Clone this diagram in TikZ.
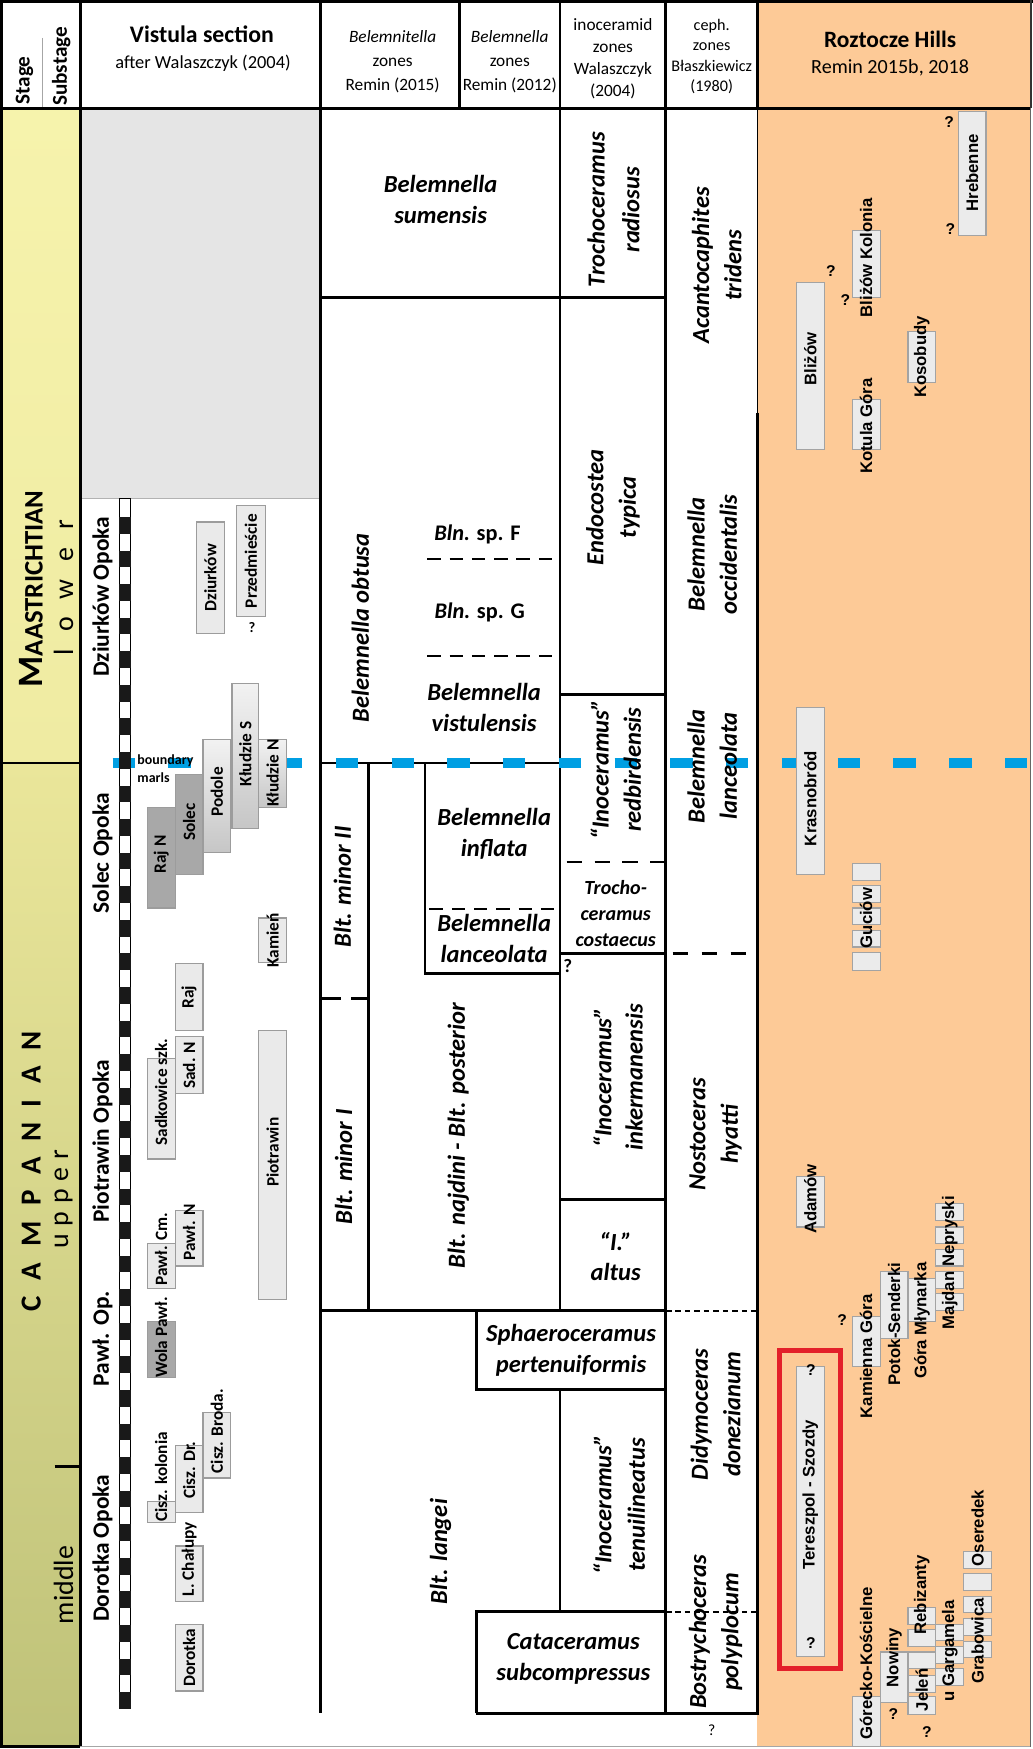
\documentclass[tikz,border=0pt]{standalone}
\usepackage{fontspec}
\setmainfont{Carlito}
\newfontfamily\arialf{Liberation Sans}
\definecolor{orng}{HTML}{FDCA97}
\definecolor{bblue}{HTML}{009FE3}
\definecolor{rboxf}{HTML}{EBEBEB}
\definecolor{rboxd}{HTML}{A3A3A3}
\definecolor{topgray}{HTML}{E5E5E5}
\definecolor{stA}{HTML}{F6F3AC}
\definecolor{stB}{HTML}{EFEBA2}
\definecolor{stC}{HTML}{EAE69A}
\definecolor{stD}{HTML}{BFC279}
\definecolor{redb}{HTML}{E3202A}
\definecolor{lgt}{HTML}{EAEAEA}
\definecolor{drk}{HTML}{A8A8A8}
\definecolor{medt}{HTML}{F2F2F2}
\definecolor{medb}{HTML}{C6C6C6}
\definecolor{edge}{HTML}{9C9C9C}
\begin{document}
\begin{tikzpicture}[x=1pt,y=-1pt,
  ln/.style={line width=2.6pt,black},
  tln/.style={line width=1.2pt,black},
  dln/.style={line width=2.2pt,black,dash pattern=on 12pt off 8pt},
  fdln/.style={line width=1.6pt,black,dash pattern=on 5pt off 3.5pt},
  zone/.style={font=\bfseries\itshape\fontsize{22}{28}\selectfont,align=center,inner sep=0pt},
  zonev/.style={zone,rotate=90},
  form/.style={font=\bfseries\fontsize{21}{24}\selectfont,rotate=90,inner sep=0pt},
  vlab/.style={font=\bfseries\fontsize{15.5}{18}\selectfont,rotate=90,inner sep=0pt},
  rlab/.style={font=\arialf\bfseries\fontsize{15}{18}\selectfont,rotate=90,inner sep=0pt},
  hdr/.style={font=\fontsize{15.5}{21.5}\selectfont,align=center,inner sep=0pt},
  qm/.style={font=\arialf\bfseries\fontsize{14}{14}\selectfont,inner sep=0pt},
  rbx/.style={fill=rboxf,draw=rboxd,line width=1pt},
  lbx/.style={fill=lgt,draw=edge,line width=1pt},
  dbx/.style={fill=drk,draw=edge,line width=1pt},
  mbx/.style={top color=medt,bottom color=medb,draw=edge,line width=1pt},
]
\useasboundingbox (0,0) rectangle (926,1568);
\fill[white] (0,0) rectangle (926,1568);
% ---------- backgrounds
\fill[orng] (679,0) rectangle (924,1566);
\shade[top color=stA,bottom color=stB] (0,97) rectangle (72,684);
\shade[top color=stC,bottom color=stD] (0,684) rectangle (72,1566);
\fill[topgray] (72,97) rectangle (287,447);
\draw[line width=0.8pt,gray!60] (72,447) -- (287,447);
% ---------- frame and header lines
\draw[line width=3pt] (0,1.5) -- (926,1.5);
\draw[ln] (1.5,0) -- (1.5,1566);
\draw[ln] (0,97) -- (924,97);
\draw[ln] (72,0) -- (72,1566);
\draw[ln] (0,1566) -- (72,1566);
\draw[line width=1pt,gray!70] (72,1566) -- (924,1566);
\draw[line width=1.2pt,gray!70] (38,34) -- (38,96);
\draw[ln] (287,0) -- (287,1536);
\draw[ln] (412,0) -- (412,97);
\draw[ln] (502,0) -- (502,97);
\draw[ln] (597,0) -- (597,1536);
\draw[ln] (679,0) -- (679,97);
\draw[tln] (679,97) -- (679,370);
\draw[ln] (679,370) -- (679,1536);
\draw[line width=1.6pt,black!80] (924,0) -- (924,97);
\draw[line width=1pt,black!60] (924,97) -- (924,1566);
% ---------- stage column lines
\draw[ln] (0,684) -- (72,684);
\draw[ln] (49,1315) -- (72,1315);
% ---------- belemnite / inoceramid / ceph lines
\draw[ln] (287,267) -- (597,267);
\draw[ln] (287,684) -- (502,684);
\draw[ln] (502,97) -- (502,1175);
\draw[ln] (502,1246) -- (502,1445);
\draw[ln] (330,684) -- (330,1175);
\draw[ln] (381,684) -- (381,873) -- (502,873);
\draw[ln] (287,1175) -- (597,1175);
\draw[ln] (427,1175) -- (427,1246) -- (597,1246);
\draw[ln] (427,1536) -- (427,1445) -- (597,1445);
\draw[ln] (427,1536) -- (680,1536);
\draw[ln] (502,623) -- (597,623);
\draw[ln] (502,855) -- (597,855);
\draw[ln] (502,1075) -- (597,1075);
\draw[dln] (383,501) -- (498,501);
\draw[dln] (383,588) -- (498,588);
\draw[dln] (385,815) -- (502,815);
\draw[dln,dash pattern=on 19pt off 9pt] (287,895) -- (330,895);
\draw[dln,dash pattern=on 14pt off 11pt] (508,773) -- (597,773);
\draw[dln,dash pattern=on 14pt off 12pt] (603,855) -- (679,855);
\draw[fdln] (597,1175) -- (679,1175);
\draw[fdln] (597,1445) -- (679,1445);
% ---------- boundary (blue)
\draw[bblue,line width=9pt,dash pattern=on 20pt off 30pt] (101,684) -- (926,684);
% ---------- Vistula bar
\draw[line width=0.8pt,black] (107,447) rectangle (117,1531);
\foreach \k in {0,...,35}{\fill[black!90] (107,463.5+30.1*\k) rectangle (117,478.5+30.1*\k);}
% ---------- Vistula boxes
\path[lbx] (176,468) rectangle (201,568);
\path[lbx] (212,453) rectangle (238,553);
\path[mbx] (208,613) rectangle (232,743);
\path[mbx] (232,663) rectangle (257,724);
\path[mbx] (182,663) rectangle (207,764);
\path[dbx] (157,694) rectangle (182,784);
\path[dbx] (132,724) rectangle (157,814);
\path[lbx] (232,823) rectangle (257,863);
\path[lbx] (157,864) rectangle (182,924);
\path[lbx] (157,929) rectangle (182,980);
\path[lbx] (132,949) rectangle (157,1039);
\path[lbx] (232,924) rectangle (257,1165);
\path[lbx] (157,1085) rectangle (182,1135);
\path[lbx] (132,1115) rectangle (157,1155);
\path[dbx] (132,1185) rectangle (157,1235);
\path[lbx] (182,1266) rectangle (207,1325);
\path[lbx] (157,1296) rectangle (182,1356);
\path[lbx] (132,1346) rectangle (157,1365);
\path[lbx] (157,1386) rectangle (182,1436);
\path[lbx] (157,1456) rectangle (182,1516);
% ---------- Roztocze boxes
\path[rbx] (859,100) rectangle (884,211);
\path[rbx] (764,207) rectangle (789,267);
\path[rbx] (714,253) rectangle (739,403);
\path[rbx] (814,297) rectangle (839,343);
\path[rbx] (764,358) rectangle (789,403);
\path[rbx] (714,634) rectangle (739,784);
\foreach \a/\b in {774/789,794/809,814/829,834/849,854/870}{\path[rbx] (764,\a) rectangle (789,\b);}
\path[rbx] (714,1055) rectangle (739,1100);
\path[rbx] (764,1180) rectangle (789,1225);
\path[rbx] (789,1140) rectangle (814,1200);
\path[rbx] (814,1146) rectangle (839,1185);
\foreach \a/\b in {1079/1094,1100/1115,1120/1135,1140/1155,1160/1175}{\path[rbx] (839,\a) rectangle (864,\b);}
\path[rbx] (714,1225) rectangle (739,1485);
\path[rbx] (764,1521) rectangle (789,1566);
\path[rbx] (789,1481) rectangle (814,1526);
\foreach \a/\b in {1441/1456,1461/1476,1481/1496,1502/1517,1521/1537}{\path[rbx] (814,\a) rectangle (839,\b);}
\foreach \a/\b in {1456/1471,1476/1491,1496/1511}{\path[rbx] (839,\a) rectangle (864,\b);}
\foreach \a/\b in {1391/1406,1411/1426,1431/1446,1451/1466,1472/1486}{\path[rbx] (864,\a) rectangle (889,\b);}
\draw[redb,line width=4.5pt] (698.5,1211) rectangle (753.5,1496);
% ---------- header texts
\node[font=\bfseries\fontsize{19}{19}\selectfont,rotate=90,anchor=west,inner sep=0pt] (hst) at (22,94) {Stage};
\node[font=\bfseries\fontsize{19}{19}\selectfont,rotate=90,anchor=west,inner sep=0pt] (hsub) at (55,95) {Substage};
\node[font=\bfseries\fontsize{21.3}{21.3}\selectfont,inner sep=0pt] (hvis) at (181,31) {Vistula section};
\node[font=\fontsize{16.5}{16.5}\selectfont,inner sep=0pt] (hvis2) at (182,57) {after Walaszczyk (2004)};
\node[hdr] (hbt) at (352,55.5) {\textit{Belemnitella}\\zones\\Remin (2015)};
\node[hdr] (hbn) at (457,55.5) {\textit{Belemnella}\\zones\\Remin (2012)};
\node[hdr,font=\fontsize{15.5}{19.6}\selectfont] (hin) at (549.5,52.5) {inoceramid\\zones\\Walaszczyk\\(2004)};
\node[hdr,font=\fontsize{14.5}{18.3}\selectfont] (hce) at (638,50.5) {ceph.\\zones\\Błaszkiewicz\\(1980)};
\node[font=\bfseries\fontsize{21}{21}\selectfont,inner sep=0pt] (hro) at (798,35) {Roztocze Hills};
\node[font=\fontsize{18}{18}\selectfont,inner sep=0pt] (hro2) at (798,61) {Remin 2015b, 2018};
% ---------- stage texts
\node[rotate=90,font=\bfseries,inner sep=0pt] (maa) at (28,528) {\fontsize{32}{32}\selectfont M\fontsize{24}{24}\selectfont AASTRICHTIAN};
\node[rotate=90,font=\fontsize{25}{25}\selectfont,inner sep=0pt] (low) at (57,527) {l\hspace{16pt}o\hspace{16pt}w\hspace{16pt}e\hspace{16pt}r};
\node[rotate=90,font=\bfseries\fontsize{26}{26}\selectfont,inner sep=0pt] (cam) at (28,1050) {C\hspace{14pt}A\hspace{14pt}M\hspace{14pt}P\hspace{14pt}A\hspace{14pt}N\hspace{14pt}I\hspace{14pt}A\hspace{14pt}N};
\node[rotate=90,font=\fontsize{25}{25}\selectfont,inner sep=0pt] (upp) at (57,1075) {u\hspace{7pt}p\hspace{7pt}p\hspace{7pt}e\hspace{7pt}r};
\node[rotate=90,font=\fontsize{25}{25}\selectfont,inner sep=0pt] (mid) at (57,1421) {middle};
% ---------- Vistula texts
\node[form] (f1) at (92,535) {Dziurków Opoka};
\node[form] (f2) at (92,765) {Solec Opoka};
\node[form] (f3) at (92,1023) {Piotrawin Opoka};
\node[form] (f4) at (92,1200) {Pawł. Op.};
\node[form] (f5) at (92,1388) {Dorotka Opoka};
\node[font=\bfseries\fontsize{12.5}{12.5}\selectfont,anchor=west,inner sep=0pt] (bm1) at (123,682) {boundary};
\node[font=\bfseries\fontsize{12.5}{12.5}\selectfont,anchor=west,inner sep=0pt] (bm2) at (123,697) {marls};
\node[vlab] (v1) at (188.5,518) {Dziurków};
\node[vlab] (v2) at (225,503) {Przedmieście};
\node[font=\bfseries\fontsize{13}{13}\selectfont,inner sep=0pt] (vq) at (226,563) {?};
\node[vlab] (v3) at (220,676) {Kłudzie S};
\node[vlab] (v4) at (244.5,693) {Kłudzie N};
\node[vlab] (v5) at (194.5,710) {Podole};
\node[vlab] (v6) at (169.5,737) {Solec};
\node[vlab] (v7) at (144.5,766) {Raj N};
\node[vlab] (v8) at (244.5,843) {Kamień};
\node[vlab] (v9) at (169.5,894) {Raj};
\node[vlab] (v10) at (169.5,955) {Sad. N};
\node[vlab] (v11) at (144.5,979) {Sadkowice szk.};
\node[vlab] (v12) at (244.5,1033) {Piotrawin};
\node[vlab] (v13) at (169.5,1105) {Pawł. N};
\node[vlab] (v14) at (144.5,1120) {Pawł. Cm.};
\node[vlab] (v15) at (144.5,1199) {Wola Pawł.};
\node[vlab] (v16) at (194.5,1283) {Cisz. Broda.};
\node[vlab] (v17) at (169.5,1318) {Cisz. Dr.};
\node[vlab] (v18) at (144.5,1324) {Cisz. kolonia};
\node[vlab] (v19) at (169.5,1398) {L. Chałupy};
\node[vlab] (v20) at (169.5,1486) {Dorotka};
% ---------- belemnite zones
\node[zone] (z1) at (395,179) {Belemnella\\sumensis};
\node[zonev] (z2) at (323,563) {Belemnella obtusa};
\node[font=\bfseries\fontsize{20}{20}\selectfont,inner sep=0pt] (z3) at (428,479) {\textit{Bln.} sp. F};
\node[font=\bfseries\fontsize{20}{20}\selectfont,inner sep=0pt] (z4) at (430,549) {\textit{Bln.} sp. G};
\node[zone] (z5) at (434,634) {Belemnella\\vistulensis};
\node[zonev] (z6) at (307,795) {Blt. minor II};
\node[zonev] (z7) at (308,1046) {Blt. minor I};
\node[zone] (z8) at (443,747.5) {Belemnella\\inflata};
\node[zone] (z9) at (443,841.5) {Belemnella\\lanceolata};
\node[zonev] (z10) at (411,1018) {Blt. najdini - Blt. posterior};
\node[zonev] (z11) at (395,1391) {Blt. langei};
% ---------- inoceramid zones
\node[zonev,font=\bfseries\itshape\fontsize{22}{31}\selectfont] (i1) at (550,188) {Trochoceramus\\radiosus};
\node[zonev,font=\bfseries\itshape\fontsize{22}{29}\selectfont] (i2) at (549.5,455) {Endocostea\\typica};
\node[zonev,font=\bfseries\itshape\fontsize{22}{29}\selectfont] (i3) at (552,690) {“Inoceramus”\\redbirdensis};
\node[zone,font=\bfseries\itshape\fontsize{18}{23.5}\selectfont] (i4) at (552,819) {Trocho-\\ceramus\\costaecus};
\node[font=\bfseries\fontsize{17}{17}\selectfont,inner sep=0pt] (iq) at (509,866) {?};
\node[zonev,font=\bfseries\itshape\fontsize{22}{28}\selectfont] (i5) at (554,966) {“Inoceramus”\\inkermanensis};
\node[zone,font=\bfseries\itshape\fontsize{22}{27}\selectfont] (i6) at (552,1126.5) {“I.”\\altus};
\node[zone] (i7) at (512,1210.5) {Sphaeroceramus\\pertenuiformis};
\node[zonev,font=\bfseries\itshape\fontsize{22}{30}\selectfont] (i8) at (555,1349) {“Inoceramus”\\tenuilineatus};
\node[zone] (i9) at (514,1487.5) {Cataceramus\\subcompressus};
% ---------- ceph zones
\node[zonev,font=\bfseries\itshape\fontsize{22}{29}\selectfont] (c1) at (642.5,238) {Acantocaphites\\tridens};
\node[zonev,font=\bfseries\itshape\fontsize{22}{29}\selectfont] (c2) at (638.5,497) {Belemnella\\occidentalis};
\node[zonev,font=\bfseries\itshape\fontsize{22}{29}\selectfont] (c3) at (638.5,687) {Belemnella\\lanceolata};
\node[zonev,font=\bfseries\itshape\fontsize{22}{29}\selectfont] (c4) at (641.5,1017) {Nostoceras\\hyatti};
\node[zonev,font=\bfseries\itshape\fontsize{22}{29}\selectfont] (c5) at (641.5,1268) {Didymoceras\\donezianum};
\node[zonev,font=\bfseries\itshape\fontsize{22}{29}\selectfont] (c6) at (641.5,1463) {Bostrychoceras\\polyplocum};
\node[font=\fontsize{14}{14}\selectfont,inner sep=0pt] (cq) at (638,1551) {?};
% ---------- Roztocze labels
\node[rlab] (r1) at (871.5,155) {Hrebenne};
\node[rlab] (r2) at (776.5,231) {Bliżów Kolonia};
\node[rlab] (r3) at (726.5,322) {Bliżów};
\node[rlab] (r4) at (826.5,320) {Kosobudy};
\node[rlab] (r5) at (776.5,382) {Kotula Góra};
\node[rlab] (r6) at (726.5,716) {Krasnobród};
\node[rlab] (r7) at (776.5,823) {Guciów};
\node[rlab] (r8) at (726.5,1075) {Adamów};
\node[rlab] (r9) at (776.5,1216) {Kamienna Góra};
\node[rlab] (r10) at (801.5,1187) {Potok-Senderki};
\node[rlab] (r11) at (826.5,1184) {Góra Młynarka};
\node[rlab] (r12) at (851.5,1132) {Majdan Nepryski};
\node[rlab] (r13) at (726.5,1340) {Tereszpol - Szozdy};
\node[rlab] (r14) at (776.5,1491) {Górecko-Kościelne};
\node[rlab] (r15) at (801.5,1486) {Nowiny};
\node[rlab] (r16) at (826.5,1515) {Jeleń};
\node[rlab] (r17) at (826.5,1430) {Rebizanty};
\node[rlab] (r18) at (851.5,1480) {u Gargamela};
\node[rlab] (r19) at (876.5,1471) {Grabowica};
\node[rlab] (r20) at (876.5,1370) {Oseredek};
\node[qm] (q1) at (851,109) {?};
\node[qm] (q2) at (852,205) {?};
\node[qm] (q3) at (745,243) {?};
\node[qm] (q4) at (758,269) {?};
\node[qm] (q5) at (755,1183) {?};
\node[qm] (q6) at (727,1228) {?};
\node[qm] (q7) at (727,1473) {?};
\node[qm] (q8) at (801,1537) {?};
\node[qm] (q9) at (831,1553) {?};
\end{tikzpicture}
\end{document}
